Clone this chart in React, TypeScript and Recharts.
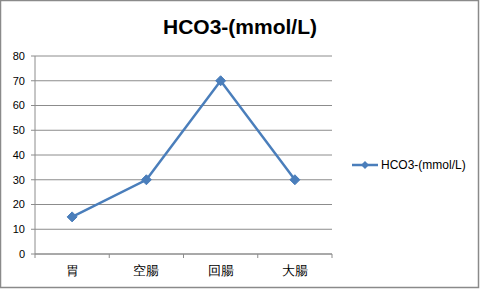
import React from 'react';
import { LineChart, Line, XAxis, YAxis, CartesianGrid } from 'recharts';

const categories = ['胃', '空腸', '回腸', '大腸'];
const hco3Values = [15, 30, 70, 30];
const yTicks = [0, 10, 20, 30, 40, 50, 60, 70, 80];
const seriesName = 'HCO3-(mmol/L)';
const titleText = 'HCO3-(mmol/L)';

const data = categories.map((c, i) => ({ name: c, value: hco3Values[i] }));

const COLOR = '#4A7EBB';
const AXIS = '#8C8C8C';
const FONT = '"Liberation Sans", Arial, sans-serif';
const PLOT_W = 297;
const HALF = PLOT_W / categories.length / 2;
const AXIS_Y = 254;

const Diamond = (props: any) => {
  const { cx, cy } = props;
  if (cx == null || cy == null) return null;
  const r = 5;
  return (
    <polygon
      points={`${cx},${cy - r} ${cx + r},${cy} ${cx},${cy + r} ${cx - r},${cy}`}
      fill={COLOR}
      stroke={COLOR}
      strokeWidth={1}
    />
  );
};

const CategoryTick = (props: any) => {
  const { x, y, payload, index } = props;
  const last = index === categories.length - 1;
  return (
    <g>
      <line x1={x - HALF} y1={AXIS_Y} x2={x - HALF} y2={AXIS_Y + 4} stroke={AXIS} />
      {last && <line x1={x + HALF} y1={AXIS_Y} x2={x + HALF} y2={AXIS_Y + 4} stroke={AXIS} />}
      <text x={x} y={y} dy="0.71em" textAnchor="middle" fontSize={13} fontFamily={FONT} fill="#000">
        {payload.value}
      </text>
    </g>
  );
};

export default function App() {
  return (
    <div
      style={{
        position: 'absolute',
        left: 0,
        top: 0,
        width: 480,
        height: 289,
        background: '#fff',
      }}
    >
      <LineChart
        width={480}
        height={289}
        data={data}
        margin={{ top: 56, right: 148, bottom: 0, left: 0 }}
      >
        <CartesianGrid horizontal={true} vertical={false} stroke={AXIS} strokeWidth={1} />
        <XAxis
          dataKey="name"
          height={35}
          padding={{ left: HALF, right: HALF }}
          tickLine={false}
          axisLine={{ stroke: AXIS }}
          tick={<CategoryTick />}
          tickSize={6}
          tickMargin={6}
          interval={0}
        />
        <YAxis
          width={35}
          domain={[0, 80]}
          ticks={yTicks}
          tickLine={{ stroke: AXIS }}
          axisLine={{ stroke: AXIS }}
          tickSize={4}
          tickMargin={6}
          tick={{ fontSize: 11, fill: '#000', fontFamily: FONT }}
          interval={0}
        />
        <Line
          type="linear"
          dataKey="value"
          name={seriesName}
          stroke={COLOR}
          strokeWidth={2.5}
          dot={<Diamond />}
          activeDot={false}
          isAnimationActive={false}
        />
      </LineChart>
      <svg
        width={480}
        height={289}
        style={{ position: 'absolute', left: 0, top: 0, pointerEvents: 'none' }}
      >
        <text
          x={240}
          y={34}
          textAnchor="middle"
          fontSize={21}
          fontWeight="bold"
          fontFamily={FONT}
          fill="#000"
        >
          {titleText}
        </text>
        <g transform="translate(350,155)">
          <line x1={2} y1={10} x2={28} y2={10} stroke={COLOR} strokeWidth={2.5} />
          <polygon points="15,6 19,10 15,14 11,10" fill={COLOR} />
          <text x={31} y={14} fontSize={12} fontFamily={FONT} fill="#000">
            {seriesName}
          </text>
        </g>
        <rect x={0.5} y={0.5} width={478} height={287} fill="none" stroke="#8A8A8A" strokeWidth={1.5} />
      </svg>
    </div>
  );
}
